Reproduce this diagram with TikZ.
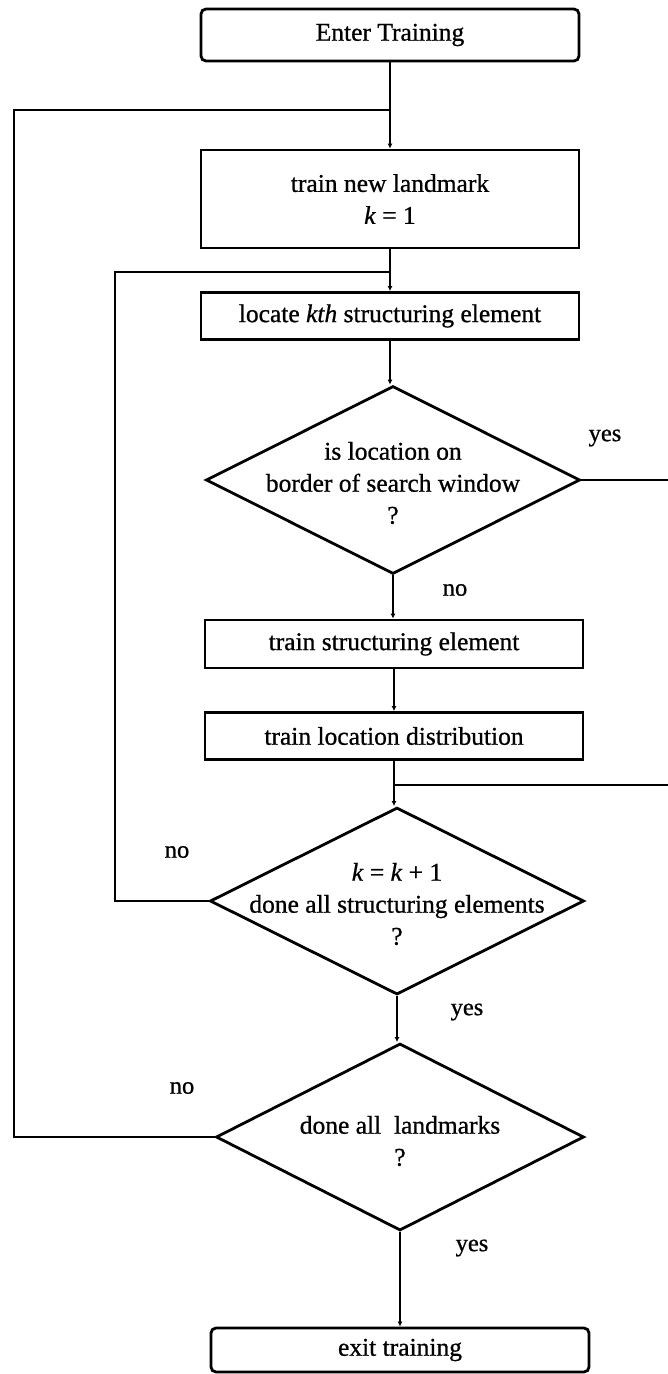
\documentclass[tikz,border=0pt]{standalone}
\usepackage{fontspec}
\setmainfont[FakeBold=0.8]{Liberation Serif}
\usetikzlibrary{shapes.geometric,arrows.meta}
\begin{document}
\begin{tikzpicture}[x=1pt,y=-1pt,
  every node/.style={font=\fontsize{25.5}{32}\selectfont},
  ln/.style={line width=2.8pt},
  arr/.style={ln,-{Latex[length=5pt,width=5pt]}},
  box/.style={draw,line width=2.8pt,rectangle,minimum width=378pt,inner sep=0pt,align=center},
  term/.style={box,rounded corners=5pt},
  dia/.style={draw,line width=2.8pt,diamond,inner sep=0pt},
  lab/.style={font=\fontsize{24.5}{28}\selectfont}]
\fill[white] (0,0) rectangle (668,1374);
\useasboundingbox (0,0) rectangle (668,1374);

\node[term,minimum height=52pt] (enter) at (390,35) {Enter Training};
\node[box,minimum height=98pt] (land) at (390,199) {train new landmark\\ \textit{k} = 1};
\node[box,minimum height=47pt] (locate) at (390,316) {locate \textit{kth} structuring element};
\node[dia,minimum width=374pt,minimum height=188pt] (d1) at (393,480) {};
\node[align=center] (d1t) at ([yshift=-3pt]d1.center) {is location on\\border of search window\\?};
\node[box,minimum height=48pt] (struct) at (394,644) {train structuring element};
\node[box,minimum height=47pt] (locd) at (394,736) {train location distribution};
\node[dia,minimum width=374pt,minimum height=187pt] (d2) at (397,901) {};
\node[align=center] (d2t) at ([yshift=-3pt]d2.center) {\textit{k} = \textit{k} + 1\\done all structuring elements\\?};
\node[dia,minimum width=368pt,minimum height=187pt] (d3) at (400,1137) {};
\node[align=center] (d3t) at ([yshift=-4pt]d3.center) {done all\ \ landmarks\\?};
\node[term,minimum height=44pt] (exit) at (400,1350) {exit training};

\coordinate (j1) at (390,110);
\coordinate (j2) at (390,272);
\coordinate (j3) at (394,785);
\coordinate (oL) at (14,1137);
\coordinate (iL) at (115,901);
\coordinate (yesR) at (668,480);
\coordinate (mergeR) at (668,785);

\draw[arr] (enter.south) -- (land.north);
\draw[arr] (land.south) -- (locate.north);
\draw[arr] (locate.south) -- (locate.south |- d1.north);
\draw[arr] (d1.south) -- (d1.south |- struct.north);
\draw[arr] (struct.south) -- (locd.north);
\draw[arr] (locd.south) -- (locd.south |- d2.north);
\draw[arr] (d2.south) -- (d2.south |- d3.north);
\draw[arr] (d3.south) -- (exit.north);

\draw[ln] (d3.west) -- (oL) |- (j1);
\draw[ln] (d2.west) -- (iL) |- (j2);
\draw[ln] (d1.east) -- (yesR);
\draw[ln] (mergeR) -- (j3);

\node[lab] (y1) at (605,438) {yes};
\node[lab] (n1) at (455,590) {no};
\node[lab] (n2) at (177,852) {no};
\node[lab] (y2) at (467,1012) {yes};
\node[lab] (n3) at (182,1088) {no};
\node[lab] (y3) at (472,1248) {yes};
\end{tikzpicture}
\end{document}
